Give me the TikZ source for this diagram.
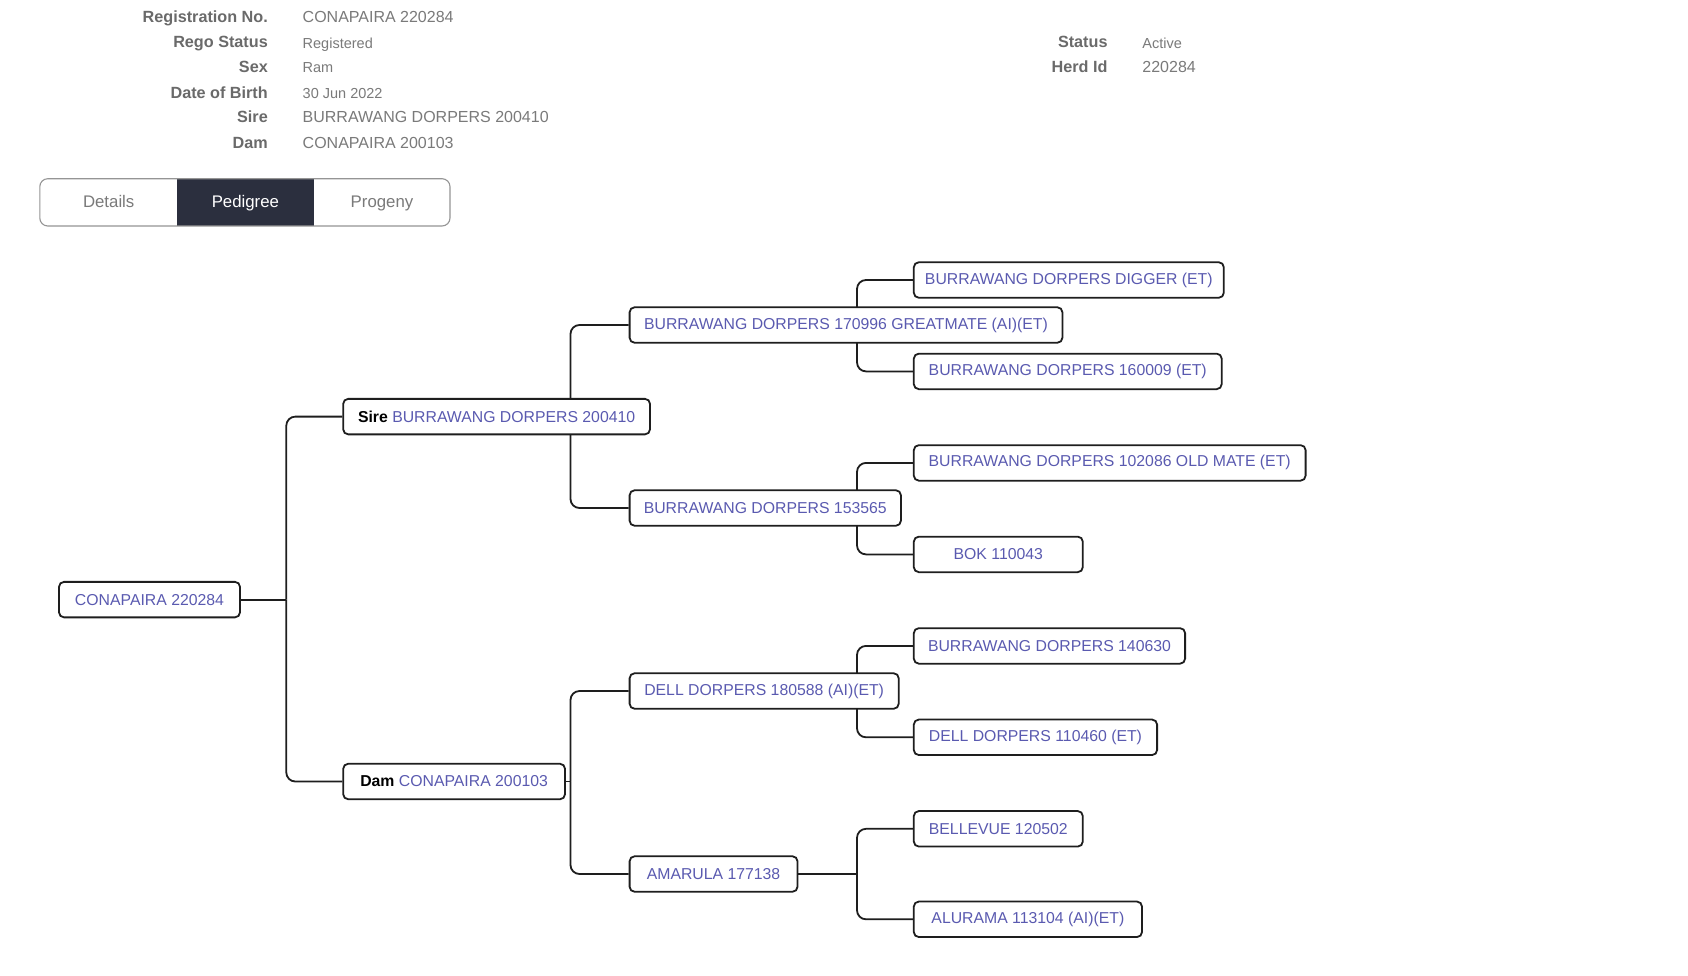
\documentclass[tikz,border=0pt]{standalone}
\usepackage{fontspec}
\setmainfont{Liberation Sans}
\usetikzlibrary{positioning}
\definecolor{pblue}{HTML}{5A5AB0}
\definecolor{lgrey}{HTML}{6A6A6A}
\definecolor{vgrey}{HTML}{7A7A7A}
\definecolor{tabdark}{HTML}{2B2F3E}
\definecolor{lineblk}{HTML}{1E1E1E}
\pgfdeclarelayer{bg}
\pgfsetlayers{bg,main}
\tikzset{
  pbox/.style={draw=lineblk, line width=1.8pt, rounded corners=5pt, fill=white,
    minimum height=35.5pt, inner xsep=0pt, inner ysep=0pt, anchor=west,
    text=pblue, font=\fontsize{15.8}{19}\selectfont},
  conn/.style={draw=lineblk, line width=1.8pt, rounded corners=9pt},
  lab/.style={anchor=mid east, text=lgrey, font=\fontsize{16.2}{19}\selectfont\bfseries, inner sep=0pt},
  val/.style={anchor=mid west, text=vgrey, font=\fontsize{16}{19}\selectfont, inner sep=0pt},
  sval/.style={anchor=mid west, text=vgrey, font=\fontsize{14.5}{17}\selectfont, inner sep=0pt},
  tabtxt/.style={anchor=mid, font=\fontsize{16.8}{19}\selectfont, inner sep=0pt}
}
\begin{document}
\begin{tikzpicture}[x=1pt,y=-1pt]
\begin{pgfonlayer}{bg}
\fill[white] (0,0) rectangle (1688,975);
\end{pgfonlayer}
\useasboundingbox (0,0) rectangle (1688,975);
% header info
\node[lab] (l1) at (268,19.6) {Registration No.};
\node[lab] (l2) at (268,45) {Rego Status};
\node[lab] (l3) at (268,70) {Sex};
\node[lab] (l4) at (268,95.6) {Date of Birth};
\node[lab] (l5) at (268,119.8) {Sire};
\node[lab] (l6) at (268,145.6) {Dam};
\node[val] (v1) at (302.5,19.6) {CONAPAIRA 220284};
\node[sval] (v2) at (302.5,45.5) {Registered};
\node[sval] (v3) at (302.5,70.2) {Ram};
\node[sval] (v4) at (302.5,96.1) {30 Jun 2022};
\node[val] (v5) at (302.5,119.8) {BURRAWANG DORPERS 200410};
\node[val] (v6) at (302.5,145.6) {CONAPAIRA 200103};
\node[lab] (l7) at (1107.7,45) {Status};
\node[lab] (l8) at (1107.7,70) {Herd Id};
\node[sval] (v7) at (1142.2,45.5) {Active};
\node[val] (v8) at (1142.2,70) {220284};
% tabs
\fill[tabdark] (176.5,178.7) rectangle (314.3,226);
\draw[draw=vgrey!80, line width=1.1pt, rounded corners=8pt] (39.8,178.7) rectangle (450,226);
\node[tabtxt, text=vgrey] (t1) at (108.7,205) {Details};
\node[tabtxt, text=white] (t2) at (245.4,205) {Pedigree};
\node[tabtxt, text=vgrey] (t3) at (382,205) {Progeny};
% tree nodes
\node[pbox, minimum width=181pt] (root) at (58.1,599.6) {CONAPAIRA 220284};
\node[pbox, minimum width=306.8pt] (sire) at (342.3,416.6) {\textcolor{black}{\bfseries Sire} BURRAWANG DORPERS 200410};
\node[pbox, minimum width=221.8pt] (dam) at (342.3,781.5) {\textcolor{black}{\bfseries Dam} CONAPAIRA 200103};
\node[pbox, minimum width=432.8pt] (g1) at (628.7,325) {BURRAWANG DORPERS 170996 GREATMATE (AI)(ET)};
\node[pbox, minimum width=271.3pt] (g2) at (628.7,508) {BURRAWANG DORPERS 153565};
\node[pbox, minimum width=269.1pt] (g3) at (628.7,691) {DELL DORPERS 180588 (AI)(ET)};
\node[pbox, minimum width=167.9pt] (g4) at (628.7,874) {AMARULA 177138};
\node[pbox, minimum width=310pt] (h1) at (912.9,280) {BURRAWANG DORPERS DIGGER (ET)};
\node[pbox, minimum width=307.9pt] (h2) at (912.9,371.4) {BURRAWANG DORPERS 160009 (ET)};
\node[pbox, minimum width=391.8pt] (h3) at (912.9,462.9) {BURRAWANG DORPERS 102086 OLD MATE (ET)};
\node[pbox, minimum width=169pt] (h4) at (912.9,554.4) {BOK 110043};
\node[pbox, minimum width=271.3pt] (h5) at (912.9,645.9) {BURRAWANG DORPERS 140630};
\node[pbox, minimum width=243.3pt] (h6) at (912.9,737.3) {DELL DORPERS 110460 (ET)};
\node[pbox, minimum width=169pt] (h7) at (912.9,828.8) {BELLEVUE 120502};
\node[pbox, minimum width=228.2pt] (h8) at (912.9,919.3) {ALURAMA 113104 (AI)(ET)};
% junctions
\coordinate (jr) at (286.3,599.6);
\coordinate (js) at (570.5,416.6);
\coordinate (jd) at (570.5,781.5);
\coordinate (j1) at (857,325);
\coordinate (j2) at (857,508);
\coordinate (j3) at (857,691);
\coordinate (j4) at (857,874);
\begin{pgfonlayer}{bg}
\draw[conn] (root.east) -- (jr);
\draw[conn] (jr) |- (sire.west);
\draw[conn] (jr) |- (dam.west);
\draw[conn] (js) |- (g1.west);
\draw[conn] (js) |- (g2.west);
\draw[conn] (dam.east) -- (jd);
\draw[conn] (jd) |- (g3.west);
\draw[conn] (jd) |- (g4.west);
\draw[conn] (j1) |- (h1.west);
\draw[conn] (j1) |- (h2.west);
\draw[conn] (j2) |- (h3.west);
\draw[conn] (j2) |- (h4.west);
\draw[conn] (j3) |- (h5.west);
\draw[conn] (j3) |- (h6.west);
\draw[conn] (g4.east) -- (j4);
\draw[conn] (j4) |- (h7.west);
\draw[conn] (j4) |- (h8.west);
\end{pgfonlayer}
\end{tikzpicture}
\end{document}
